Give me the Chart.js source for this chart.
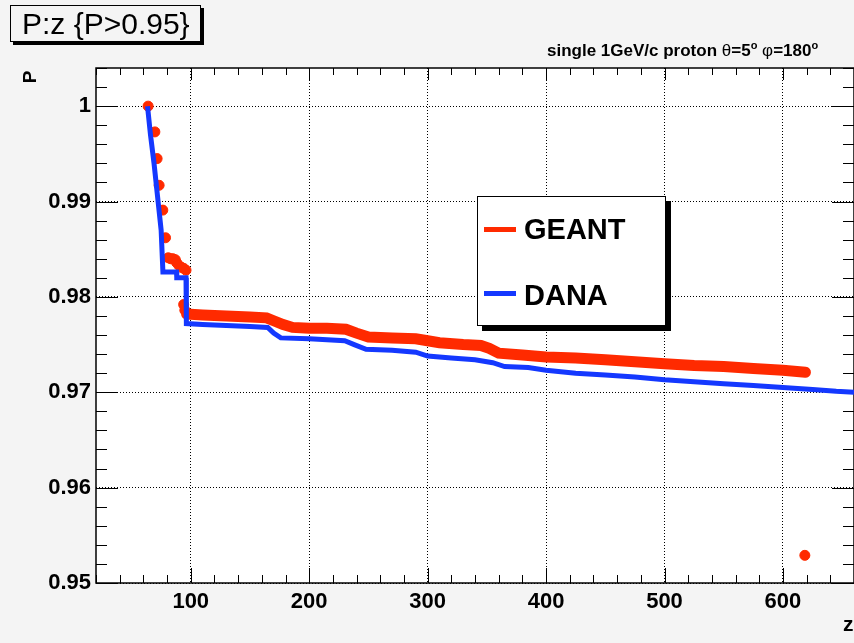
<!DOCTYPE html>
<html>
<head>
<meta charset="utf-8">
<script src="https://cdn.jsdelivr.net/npm/chart.js@4/dist/chart.umd.min.js"></script>
<style>
  body { margin: 0; background: #f4f4f4; font-family: 'Liberation Sans', Arial, sans-serif; }
  #wrap { position: relative; width: 854px; height: 643px; overflow: hidden; }
  #wrap canvas { position: absolute; left: 0; top: 0; }
  .title { position: absolute; left: 10px; top: 5px; width: 191px; height: 37px; border: 1.5px solid #000;
           box-shadow: 3px 3px 0 #000; background: #f4f4f4; font-size: 30px; line-height: 36px; padding-left: 11px; box-sizing: border-box; }
  .sub { position: absolute; left: 547px; top: 39px; font-size: 17px; font-weight: bold; white-space: nowrap; }
  .sub sup { font-size: 11px; }
  .sub .gr { font-weight: normal; }
  .ylab { position: absolute; left: 24px; top: 66px; font-size: 19px; font-weight: bold; transform: rotate(-90deg); transform-origin: center; }
  .xlab { position: absolute; left: 843px; top: 612px; font-size: 21px; font-weight: bold; }
  .legend { position: absolute; left: 477px; top: 196px; width: 189px; height: 130px; border: 1px solid #000;
            background: #fff; box-shadow: 5px 5px 0 #000; box-sizing: border-box; }
  .legend .ln { position: absolute; left: 6px; width: 32px; height: 5px; }
  .legend .tx { position: absolute; left: 46px; font-size: 29px; font-weight: bold; line-height: 30px; }
</style>
</head>
<body>
<div id="wrap">
  <canvas id="chart" width="860" height="643"></canvas>
  <div class="title">P:z {P&gt;0.95}</div>
  <div class="sub">single 1GeV/c proton <span class="gr">θ</span>=5<sup>o</sup> <span class="gr">φ</span>=180<sup>o</sup></div>
  <div class="ylab">P</div>
  <div class="xlab">z</div>
  <div class="legend">
    <div class="ln" style="top:30px;background:#ff2a00"></div>
    <div class="tx" style="top:17px">GEANT</div>
    <div class="ln" style="top:94px;background:#1438ff"></div>
    <div class="tx" style="top:83px">DANA</div>
  </div>
</div>
<script>
// tick values / labels
const xTicks = [100, 200, 300, 400, 500, 600];
const yTicks = [0.95, 0.96, 0.97, 0.98, 0.99, 1.0];
const yTickLabels = ['0.95', '0.96', '0.97', '0.98', '0.99', '1'];

// GEANT: separate markers on the steep part + the outlier
const geantDotsZ = [64, 69.7, 71.6, 73.3, 76.4, 78.7, 81, 83, 85, 87, 88, 90, 92, 94, 96, 94, 95, 618.5];
const geantDotsP = [1.0, 0.9973, 0.9945, 0.9917, 0.9891, 0.9862, 0.9841, 0.9840, 0.9840, 0.9839, 0.9836, 0.9833, 0.9831, 0.9830, 0.9828, 0.9792, 0.9786, 0.9529];

// GEANT: dense band after the drop
const geantZ = [96.5, 110, 130, 150, 164, 170, 178, 186, 200, 215, 231, 240, 250, 270, 290, 300, 310, 330, 345, 352, 360, 380, 400, 425, 450, 475, 500, 525, 550, 575, 600, 619];
const geantP = [0.9782, 0.9781, 0.9780, 0.9779, 0.9778, 0.9775, 0.9771, 0.9768, 0.9767, 0.9767, 0.9766, 0.9762, 0.9758, 0.9757, 0.9756, 0.9754, 0.9752, 0.9750, 0.9749, 0.9746, 0.9741, 0.9739, 0.9737, 0.9736, 0.9734, 0.9732, 0.9730, 0.9728, 0.9727, 0.9725, 0.9723, 0.9721];

// DANA
const danaZ = [63.5, 66, 69, 72, 75, 76.5, 88, 88.2, 96, 96.3, 110, 130, 150, 165, 170, 176, 200, 230, 238, 248, 270, 290, 300, 320, 340, 355, 365, 385, 400, 425, 450, 475, 500, 525, 550, 575, 600, 625, 645, 660];
const danaP = [1.0, 0.9970, 0.9940, 0.9905, 0.9870, 0.9826, 0.9826, 0.9820, 0.9820, 0.9772, 0.9771, 0.9770, 0.9769, 0.9768, 0.9762, 0.9757, 0.9756, 0.9754, 0.9750, 0.9745, 0.9744, 0.9742, 0.9738, 0.9736, 0.9734, 0.9731, 0.9727, 0.9726, 0.9723, 0.9720, 0.9718, 0.9716, 0.9713, 0.9711, 0.9709, 0.9707, 0.9705, 0.9703, 0.9701, 0.9700];

const pts = (xs, ys) => xs.map((v, i) => ({ x: v, y: ys[i] }));

const red = '#ff2a00';
const blue = '#1438ff';

// white pad, frame and ROOT-like inner ticks
const frame = {
  id: 'frame',
  beforeDraw(chart) {
    const { ctx, chartArea: a } = chart;
    ctx.save();
    ctx.fillStyle = '#fff';
    ctx.fillRect(a.left, a.top, a.right - a.left, a.bottom - a.top);
    ctx.restore();
  },
  beforeDatasetsDraw(chart) {
    const { ctx, chartArea: a, scales: { x, y } } = chart;
    ctx.save();
    ctx.strokeStyle = '#000';
    ctx.lineWidth = 1;
    ctx.beginPath();
    for (let v = 20; v <= 660; v += 20) {
      const px = Math.round(x.getPixelForValue(v)) + 0.5;
      const major = v % 100 === 0;
      ctx.moveTo(px, a.bottom); ctx.lineTo(px, a.bottom - (major ? 15 : 8));
      ctx.moveTo(px, a.top); ctx.lineTo(px, a.top + (major ? 12 : 7));
    }
    for (let i = 0; i <= 27; i++) {
      const py = Math.round(y.getPixelForValue(0.95 + i * 0.002)) + 0.5;
      const major = i % 5 === 0;
      ctx.moveTo(a.left, py); ctx.lineTo(a.left + (major ? 22 : 11), py);
      ctx.moveTo(a.right, py); ctx.lineTo(a.right - (major ? 22 : 11), py);
    }
    ctx.stroke();
    ctx.lineWidth = 1.5;
    ctx.strokeRect(a.left, a.top, a.right - a.left, a.bottom - a.top);
    ctx.restore();
  }
};

const tickFont = { family: "'Liberation Sans', Arial, sans-serif", size: 22, weight: 'bold' };

new Chart(document.getElementById('chart'), {
  type: 'scatter',
  data: {
    datasets: [
      {
        label: 'DANA',
        data: pts(danaZ, danaP),
        showLine: true,
        borderColor: blue,
        borderWidth: 5,
        pointRadius: 0,
        order: 0
      },
      {
        label: 'GEANT',
        data: pts(geantZ, geantP),
        showLine: true,
        borderColor: red,
        borderWidth: 11,
        borderCapStyle: 'round',
        pointRadius: 0,
        order: 1
      },
      {
        label: 'GEANT dots',
        data: pts(geantDotsZ, geantDotsP),
        backgroundColor: red,
        borderColor: red,
        pointRadius: 5,
        order: 2
      }
    ]
  },
  options: {
    responsive: false,
    animation: false,
    devicePixelRatio: 1,
    layout: { padding: { top: 68, right: 4, left: 0, bottom: 0 } },
    plugins: { legend: { display: false }, tooltip: { enabled: false } },
    scales: {
      x: {
        type: 'linear',
        min: 20,
        max: 660,
        afterBuildTicks: s => { s.ticks = xTicks.map(v => ({ value: v })); },
        afterFit: s => { s.height = 60; },
        grid: { color: '#000', lineWidth: 1, drawTicks: false },
        border: { display: false, dash: [1, 2] },
        ticks: { padding: 6, color: '#000', font: tickFont, maxRotation: 0, autoSkip: false }
      },
      y: {
        type: 'linear',
        min: 0.95,
        max: 1.004,
        afterBuildTicks: s => { s.ticks = yTicks.map(v => ({ value: v })); },
        afterFit: s => { s.width = 96; },
        grid: { color: '#000', lineWidth: 1, drawTicks: false },
        border: { display: false, dash: [1, 2] },
        ticks: {
          padding: 5,
          color: '#000',
          font: tickFont,
          autoSkip: false,
          callback: (v, i) => yTickLabels[i]
        }
      }
    }
  },
  plugins: [frame]
});
</script>
</body>
</html>
